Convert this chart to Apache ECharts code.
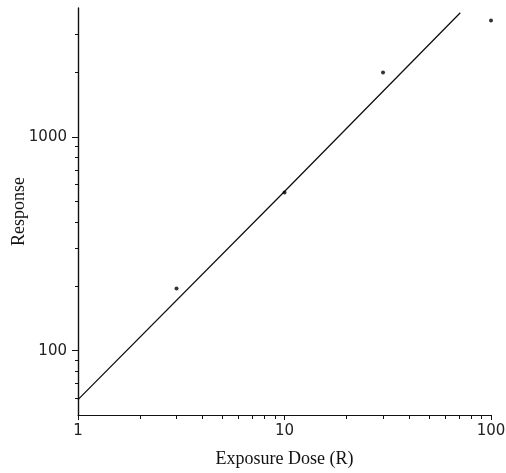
<!DOCTYPE html>
<html><head><meta charset="utf-8">
<script src="https://cdn.jsdelivr.net/npm/echarts@6/dist/echarts.min.js"></script>
<style>html,body{margin:0;padding:0;background:#fff}#c{width:506px;height:473px}</style>
</head><body><div id="c"></div>
<script>
// data
var pointX = [3, 10, 30, 100];
var pointY = [195, 548, 2000, 3500];
var lineX = [1, 10, 71];
var lineY = [59, 555, 3800];
var xMajor = [1, 10, 100];
var xMinor = [2,3,4,5,6,7,8,9,20,30,40,50,60,70,80,90];
var yMajor = [100, 1000];
var yMinor = [60,70,80,90,200,300,400,500,600,700,800,900,2000,3000];

var chart = echarts.init(document.getElementById('c'));
var sans = 'DejaVu Sans';
var serif = 'Liberation Serif';
function zip(a,b){return a.map(function(v,i){return [v,b[i]];});}
function fmt(v){return String(Math.round(v));}
var xBase = {type:'log', logBase:10, min:1, max:100, splitLine:{show:false}};
var yBase = {type:'log', logBase:10, min:50, max:4000, splitLine:{show:false}};
chart.setOption({
  animation:false,
  grid:{left:78,right:15,top:8,bottom:58,containLabel:false,outerBoundsMode:'none'},
  xAxis:[
    Object.assign({}, xBase, {
      axisLine:{show:true,lineStyle:{color:'#111',width:1}},
      axisTick:{show:true,length:5,customValues:xMajor,lineStyle:{color:'#111'}},
      axisLabel:{customValues:xMajor,formatter:fmt,color:'#222',fontFamily:sans,fontSize:15,margin:9},
      name:'Exposure Dose (R)',nameLocation:'middle',nameGap:35,nameMoveOverlap:false,
      nameTextStyle:{fontFamily:serif,fontSize:18,color:'#111'}
    }),
    Object.assign({}, xBase, {
      position:'bottom',offset:0,
      axisLine:{show:false},
      axisTick:{show:true,length:4,customValues:xMinor,lineStyle:{color:'#111'}},
      axisLabel:{show:false}
    })
  ],
  yAxis:[
    Object.assign({}, yBase, {
      position:'left',offset:0,
      axisLine:{show:true,lineStyle:{color:'#111',width:1.4}},
      axisTick:{show:true,length:6,customValues:yMajor,lineStyle:{color:'#111'}},
      axisLabel:{customValues:yMajor,formatter:fmt,color:'#222',fontFamily:sans,fontSize:15,margin:11},
      name:'Response',nameLocation:'middle',nameGap:50,nameMoveOverlap:false,
      nameTextStyle:{fontFamily:serif,fontSize:18,color:'#111'}
    }),
    Object.assign({}, yBase, {
      position:'left',offset:0,
      axisLine:{show:false},
      axisTick:{show:true,length:3,customValues:yMinor,lineStyle:{color:'#111'}},
      axisLabel:{show:false}
    })
  ],
  series:[
    {type:'line',data:zip(lineX,lineY),showSymbol:false,symbol:'none',
     lineStyle:{color:'#111',width:1.3},xAxisIndex:0,yAxisIndex:0,z:2},
    {type:'scatter',data:zip(pointX,pointY),symbol:'circle',symbolSize:4,
     itemStyle:{color:'#000'},xAxisIndex:0,yAxisIndex:0,z:3}
  ]
});
</script></body></html>
